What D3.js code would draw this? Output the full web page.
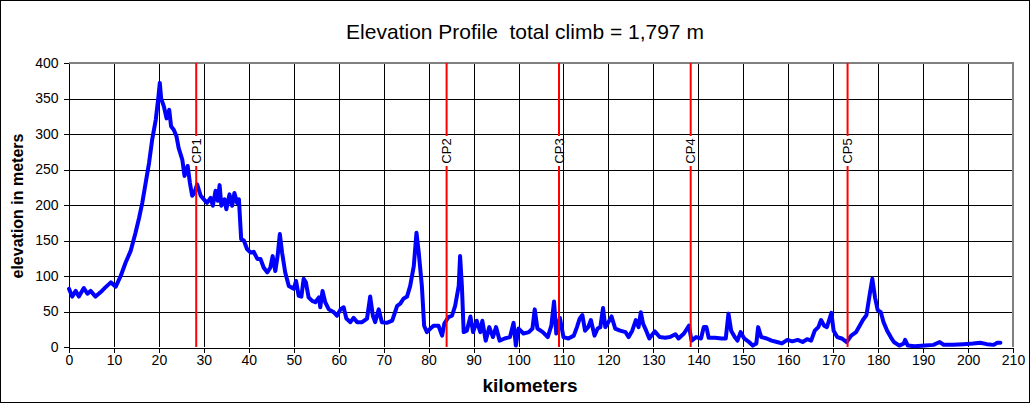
<!DOCTYPE html>
<html>
<head>
<meta charset="utf-8">
<script src="https://cdn.jsdelivr.net/npm/d3@7"></script>
<style>
  body { margin: 0; background: #fff; }
  svg { display: block; font-family: "Liberation Sans", Arial, sans-serif; }
</style>
</head>
<body>
<svg width="1030" height="403"></svg>
<script>
// distance along the route (km) and elevation (m)
var kmPoints = [
  0, 0.7, 1.5, 2.2, 3.3, 4.1, 4.8, 5.9, 7.0, 8.1, 9.3, 10.4, 11.5, 12.6, 13.7, 14.8,
  15.6, 16.3, 17.0, 17.8, 18.5, 19.3, 19.9, 20.2, 20.5, 21.1, 21.7, 22.3, 22.7, 23.3,
  23.9, 24.4, 25.2, 25.7, 26.4, 26.9, 27.4, 27.9, 28.5, 29.3, 30.0, 30.7, 31.5, 32.0,
  32.6, 33.1, 33.5, 33.9, 34.6, 35.0, 35.7, 36.3, 36.8, 37.4, 37.8, 38.3, 38.9, 39.6,
  40.4, 41.1, 41.9, 42.6, 43.3, 44.1, 44.8, 45.3, 45.9, 46.4, 46.9, 47.4, 48.1, 48.9,
  50.0, 50.5, 51.1, 51.7, 52.2, 52.7, 53.3, 54.1, 54.8, 55.6, 55.9, 56.4, 57.0, 57.8,
  58.9, 59.6, 60.4, 61.1, 61.7, 62.6, 63.3, 64.1, 65.2, 66.3, 67.0, 67.6, 68.1, 68.9,
  69.6, 70.7, 71.9, 73.0, 73.7, 74.4, 75.2, 75.9, 76.7, 77.3, 77.8, 78.5, 79.0, 79.6,
  80.4, 81.1, 82.2, 83.0, 83.5, 84.4, 85.2, 85.9, 86.7, 87.0, 87.4, 87.8, 88.5, 89.3,
  89.9, 90.7, 91.5, 91.95, 92.7, 93.5, 94.3, 95.0, 95.8, 96.9, 98.1, 98.9, 99.4, 100.0,
  101.1, 102.3, 103.1, 103.6, 104.2, 105.4, 106.5, 107.3, 107.9, 108.4, 109.2, 110.0,
  111.1, 112.3, 113.0, 113.6, 114.2, 114.8, 115.5, 116.1, 116.9, 117.6, 118.2, 118.8,
  119.3, 119.9, 120.7, 121.5, 122.6, 123.8, 124.5, 125.3, 126.1, 126.7, 127.2, 127.7,
  128.4, 129.1, 130.3, 131.4, 132.6, 133.7, 134.9, 135.6, 136.8, 137.9, 138.5, 139.5,
  140.6, 141.2, 141.8, 142.3, 143.7, 145.2, 146.1, 146.7, 147.3, 148.1, 148.7, 149.4,
  150.2, 151.3, 152.1, 152.9, 153.3, 154.0, 155.2, 156.3, 157.5, 158.6, 159.8, 160.9,
  162.1, 163.2, 164.2, 165.1, 165.9, 166.7, 167.3, 168.0, 168.6, 169.1, 169.6, 170.1,
  170.9, 171.9, 173.0, 174.0, 175.1, 175.9, 176.6, 177.4, 178.1, 178.7, 179.3, 179.9,
  180.6, 181.2, 182.0, 182.8, 183.5, 184.7, 185.7, 186.0, 186.6, 188.1, 190.4, 192.3,
  193.7, 194.6, 196.6, 198.9, 201.1, 202.7, 204.2, 205.7, 206.5, 207.2
];
var elevPoints = [
  82, 71, 79, 71, 83, 75, 79, 71, 77, 84, 91, 85, 100, 119, 135, 161,
  182, 203, 229, 259, 292, 320, 353, 372, 350, 339, 322, 334, 311, 306,
  297, 280, 264, 241, 255, 231, 213, 217, 229, 213, 208, 203, 210, 199,
  220, 206, 228, 199, 208, 194, 215, 199, 217, 203, 208, 152, 150, 138,
  133, 134, 124, 124, 112, 105, 112, 128, 107, 128, 159, 133, 105, 86,
  82, 93, 72, 71, 96, 91, 70, 65, 63, 70, 56, 79, 63, 53,
  49, 44, 53, 56, 40, 35, 41, 35, 35, 40, 71, 44, 35, 53,
  35, 34, 37, 58, 61, 68, 71, 86, 114, 161, 133, 86, 30, 21,
  26, 30, 30, 16, 33, 42, 44, 58, 86, 128, 86, 21, 23, 43,
  21, 37, 21, 37, 9, 28, 14, 28, 9, 12, 14, 34, 2, 26,
  19, 21, 26, 53, 26, 21, 14, 30, 64, 19, 41, 14,
  12, 16, 28, 40, 45, 23, 28, 38, 16, 26, 28, 55,
  28, 34, 43, 26, 23, 21, 14, 23, 38, 28, 49, 33,
  23, 12, 22, 14, 13, 14, 18, 12, 19, 30, 9, 14,
  12, 28, 28, 13, 13, 12, 12, 47, 23, 14, 9, 21,
  12, 7, 2, 5, 28, 14, 12, 9, 7, 5, 10, 8,
  10, 7, 11, 9, 23, 28, 38, 30, 28, 38, 48, 23,
  14, 12, 7, 16, 21, 30, 38, 45, 73, 96, 70, 52,
  49, 35, 23, 14, 7, 2, 5, 10, 2, 1, 2, 3,
  7, 3, 3, 4, 5, 6, 4, 3, 6, 6
];

var cpNames = ["CP1", "CP2", "CP3", "CP4", "CP5"];
var cpKm = [28.3, 84.0, 109.0, 138.3, 173.2];

var xTickValues = [0, 10, 20, 30, 40, 50, 60, 70, 80, 90, 100, 110, 120, 130, 140, 150, 160, 170, 180, 190, 200, 210];
var yTickValues = [0, 50, 100, 150, 200, 250, 300, 350, 400];

var titleText = "Elevation Profile  total climb = 1,797 m";

var svg = d3.select("svg");
var plotLeft = 69, plotRight = 1013, plotTop = 63, plotBottom = 347;

var x = d3.scaleLinear().domain([0, 210]).range([plotLeft, plotRight]);
var y = d3.scaleLinear().domain([0, 400]).range([plotBottom, plotTop]);

// outer frame
svg.append("rect")
    .attr("x", 0.5).attr("y", 0.5)
    .attr("width", 1029).attr("height", 402)
    .attr("fill", "#fff").attr("stroke", "#000");

// grid
var grid = svg.append("g");
grid.selectAll(".vg")
    .data(xTickValues.slice(1, -1))
    .enter().append("line")
    .attr("x1", function (d) { return Math.round(x(d)) + 0.5; })
    .attr("x2", function (d) { return Math.round(x(d)) + 0.5; })
    .attr("y1", plotTop).attr("y2", plotBottom)
    .attr("stroke", "#000");
grid.selectAll(".hg")
    .data(yTickValues.slice(1, -1))
    .enter().append("line")
    .attr("y1", function (d) { return Math.round(y(d)) + 0.5; })
    .attr("y2", function (d) { return Math.round(y(d)) + 0.5; })
    .attr("x1", plotLeft).attr("x2", plotRight)
    .attr("stroke", "#000");

// gray top / right border of plot area
svg.append("path")
    .attr("d", "M" + plotLeft + "," + plotTop + "H" + plotRight + "V" + plotBottom)
    .attr("fill", "none").attr("stroke", "#808080").attr("stroke-width", 2);

// axes
var xAxis = d3.axisBottom(x).tickValues(xTickValues).tickSize(5).tickSizeOuter(0);
var yAxis = d3.axisLeft(y).tickValues(yTickValues).tickSize(5).tickSizeOuter(0);

var gx = svg.append("g")
    .attr("transform", "translate(0," + (plotBottom + 0.5) + ")")
    .call(xAxis);
var gy = svg.append("g")
    .attr("transform", "translate(" + (plotLeft - 0.5) + ",0)")
    .call(yAxis);

[gx, gy].forEach(function (g) {
    g.selectAll("path, line").attr("stroke", "#000").attr("shape-rendering", "crispEdges");
    g.selectAll("text")
        .attr("fill", "#000")
        .style("font-size", "14px")
        .style("font-family", "'Liberation Sans', Arial, sans-serif");
});
gx.selectAll("text").attr("dy", "0.9em").attr("y", 5);
gy.selectAll("text").attr("x", -10);

// elevation profile
var profile = kmPoints.map(function (k, i) { return [k, elevPoints[i]]; });
var line = d3.line()
    .x(function (d) { return x(d[0]); })
    .y(function (d) { return y(d[1]); });

svg.append("path")
    .datum(profile)
    .attr("d", line)
    .attr("fill", "none")
    .attr("stroke", "#0000ff")
    .attr("stroke-width", 4)
    .attr("stroke-linejoin", "round")
    .attr("stroke-linecap", "round");

// checkpoints
var labelY = 151, gap = 15;
var cp = svg.selectAll(".cp")
    .data(cpNames)
    .enter().append("g")
    .attr("transform", function (d, i) { return "translate(" + x(cpKm[i]) + ",0)"; });

cp.append("line")
    .attr("y1", plotTop).attr("y2", labelY - gap)
    .attr("stroke", "#ff0000").attr("stroke-width", 2);
cp.append("line")
    .attr("y1", labelY + gap).attr("y2", plotBottom)
    .attr("stroke", "#ff0000").attr("stroke-width", 2);
cp.append("text")
    .attr("transform", "translate(0," + labelY + ") rotate(-90)")
    .attr("text-anchor", "middle")
    .attr("dy", "0.36em")
    .style("font-size", "13px")
    .attr("fill", "#000")
    .text(function (d) { return d; });

// titles
svg.append("text")
    .attr("x", 525).attr("y", 39)
    .attr("text-anchor", "middle")
    .style("font-size", "21px")
    .style("white-space", "pre")
    .text(titleText);

svg.append("text")
    .attr("x", 530).attr("y", 392)
    .attr("text-anchor", "middle")
    .style("font-size", "19px")
    .style("font-weight", "bold")
    .text("kilometers");

svg.append("text")
    .attr("transform", "translate(23,206) rotate(-90)")
    .attr("text-anchor", "middle")
    .style("font-size", "16px")
    .style("font-weight", "bold")
    .text("elevation in meters");
</script>
</body>
</html>
